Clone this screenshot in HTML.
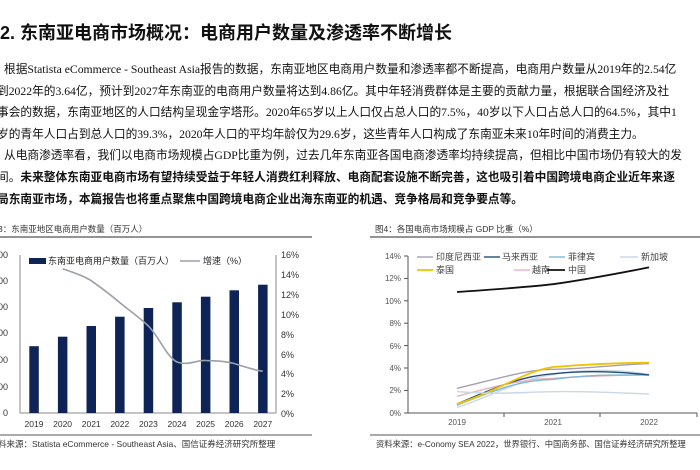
<!DOCTYPE html>
<html><head><meta charset="utf-8"><style>
body{margin:0;width:700px;height:470px;overflow:hidden;background:#fff;font-family:"Liberation Sans","Noto Sans CJK SC",sans-serif;color:#111;position:relative}
.t{position:absolute;left:0;top:19px;font-size:18px;font-weight:bold;white-space:nowrap;font-family:"Liberation Sans","Noto Sans CJK SC",sans-serif}
.p{position:absolute;left:0;white-space:nowrap;font-size:11.7px;line-height:14px;font-family:"Liberation Serif","Noto Sans CJK SC",sans-serif}
b{font-weight:bold}
svg{position:absolute;left:0;top:0}
</style></head><body>
<div class="t">2. 东南亚电商市场概况：电商用户数量及渗透率不断增长</div>
<div class="p" style="top:63px;left:4px">根据Statista eCommerce - Southeast Asia报告的数据，东南亚地区电商用户数量和渗透率都不断提高，电商用户数量从2019年的2.54亿</div>
<div class="p" style="top:84.6px;left:-3px">到2022年的3.64亿，预计到2027年东南亚的电商用户数量将达到4.86亿。其中年轻消费群体是主要的贡献力量，根据联合国经济及社</div>
<div class="p" style="top:106.2px;left:-3px">事会的数据，东南亚地区的人口结构呈现金字塔形。2020年65岁以上人口仅占总人口的7.5%，40岁以下人口占总人口的64.5%，其中1</div>
<div class="p" style="top:127.8px;left:-3px">岁的青年人口占到总人口的39.3%，2020年人口的平均年龄仅为29.6岁，这些青年人口构成了东南亚未来10年时间的消费主力。</div>
<div class="p" style="top:149.4px;left:4px">从电商渗透率看，我们以电商市场规模占GDP比重为例，过去几年东南亚各国电商渗透率均持续提高，但相比中国市场仍有较大的发</div>
<div class="p" style="top:171px;left:-3px">间。<b>未来整体东南亚电商市场有望持续受益于年轻人消费红利释放、电商配套设施不断完善，这也吸引着中国跨境电商企业近年来逐</b></div>
<div class="p" style="top:192.6px;left:-3px"><b>局东南亚市场，本篇报告也将重点聚焦中国跨境电商企业出海东南亚的机遇、竞争格局和竞争要点等。</b></div>
<svg width="700" height="470" viewBox="0 0 700 470" font-family="Liberation Sans, Noto Sans CJK SC, sans-serif">
<g font-size="8.5" fill="#333">
<text x="-2" y="232">3：东南亚地区电商用户数量（百万人）</text>
<text x="375" y="232">图4：各国电商市场规模占 GDP 比重（%）</text>
</g>
<line x1="0" y1="237" x2="312" y2="237" stroke="#555" stroke-width="1.2"/>
<line x1="370" y1="237" x2="700" y2="237" stroke="#555" stroke-width="1.2"/>
<!-- left chart -->
<line x1="20" y1="255" x2="20" y2="413" stroke="#888"/>
<line x1="20" y1="413" x2="276" y2="413" stroke="#888"/>
<line x1="276" y1="255" x2="276" y2="413" stroke="#888"/>
<g fill="#333" font-size="9">
<text x="8" y="258" text-anchor="end">600</text><text x="8" y="284" text-anchor="end">500</text><text x="8" y="310" text-anchor="end">400</text><text x="8" y="336" text-anchor="end">300</text><text x="8" y="363" text-anchor="end">200</text><text x="8" y="390" text-anchor="end">100</text><text x="8" y="416" text-anchor="end">0</text>
<text x="281" y="258">16%</text><text x="281" y="278">14%</text><text x="281" y="298">12%</text><text x="281" y="318">10%</text><text x="281" y="338">8%</text><text x="281" y="358">6%</text><text x="281" y="377">4%</text><text x="281" y="397">2%</text><text x="281" y="417">0%</text>
</g>
<g fill="#0f2456">
<rect x="29.3" y="346.2" width="9.5" height="66.8"/>
<rect x="57.9" y="336.7" width="9.5" height="76.3"/>
<rect x="86.5" y="326" width="9.5" height="87"/>
<rect x="115.1" y="316.7" width="9.5" height="96.3"/>
<rect x="143.7" y="308" width="9.5" height="105"/>
<rect x="172.3" y="302.3" width="9.5" height="110.7"/>
<rect x="200.9" y="296.7" width="9.5" height="116.3"/>
<rect x="229.5" y="290.3" width="9.5" height="122.7"/>
<rect x="258.1" y="284.7" width="9.5" height="128.3"/>
</g>
<path d="M62.6 268.7 C75 273,84 276,91.2 280.7 C103 289,112 296,119.8 302.6 C130 311,140 318,148.4 326 C160 338,166 356,177 362 C188 366,196 360,205.6 360.5 C217 361,225 361,234.2 363.5 C245 367,254 370,262.8 371.2" fill="none" stroke="#9aa0a8" stroke-width="1.6"/>
<rect x="29" y="258" width="17" height="6" fill="#0f2456"/>
<text x="48" y="264" font-size="9" fill="#222">东南亚电商用户数量（百万人）</text>
<line x1="180" y1="261" x2="200" y2="261" stroke="#9aa0a8" stroke-width="1.6"/>
<text x="203" y="264" font-size="9" fill="#222">增速（%）</text>
<g fill="#333" font-size="8.5" text-anchor="middle">
<text x="34" y="427">2019</text><text x="62.6" y="427">2020</text><text x="91.2" y="427">2021</text><text x="119.8" y="427">2022</text><text x="148.4" y="427">2023</text><text x="177" y="427">2024</text><text x="205.6" y="427">2025</text><text x="234.2" y="427">2026</text><text x="262.8" y="427">2027</text>
</g>
<line x1="0" y1="435" x2="312" y2="435" stroke="#555"/>
<text x="-2" y="447" font-size="8.5" fill="#333">料来源：Statista eCommerce - Southeast Asia、国信证券经济研究所整理</text>
<!-- right chart -->
<line x1="408" y1="256" x2="408" y2="413" stroke="#555"/>
<line x1="404" y1="413" x2="697" y2="413" stroke="#555"/>
<g stroke="#555"><line x1="504" y1="413" x2="504" y2="417"/><line x1="600" y1="413" x2="600" y2="417"/><line x1="697" y1="413" x2="697" y2="417"/><line x1="404" y1="256" x2="408" y2="256"/><line x1="404" y1="278.4" x2="408" y2="278.4"/><line x1="404" y1="300.8" x2="408" y2="300.8"/><line x1="404" y1="323.2" x2="408" y2="323.2"/><line x1="404" y1="345.6" x2="408" y2="345.6"/><line x1="404" y1="368" x2="408" y2="368"/><line x1="404" y1="390.4" x2="408" y2="390.4"/></g>
<g fill="#555" font-size="8" text-anchor="end">
<text x="401" y="259">14%</text><text x="401" y="281">12%</text><text x="401" y="304">10%</text><text x="401" y="326">8%</text><text x="401" y="349">6%</text><text x="401" y="371">4%</text><text x="401" y="393">2%</text><text x="401" y="416">0%</text>
</g>
<g fill="#555" font-size="8" text-anchor="middle"><text x="457" y="425">2019</text><text x="553" y="425">2021</text><text x="649" y="425">2022</text></g>
<g fill="none" stroke-width="1.4">
<path d="M457 388.4 C500 378,530 369,553 369.3 C590 369,620 364,649 363.7" stroke="#a79fb0"/>
<path d="M457 407.4 C490 397,520 379,553 374.5 C590 368,620 370,649 374.4" stroke="#c8d8e8"/>
<path d="M457 396.2 C490 388,520 379,553 378.3 C590 376,620 375,649 374.9" stroke="#eab4bc"/>
<path d="M457 405.2 C495 390,520 380,553 379.4 C590 374,620 375,649 374.9" stroke="#7fb8d8"/>
<path d="M457 404 C495 388,520 376,553 373.8 C590 370,620 372,649 374.9" stroke="#1f4e79"/>
<path d="M457 404 C500 390,525 371,553 367 C590 364,620 363,649 362.6" stroke="#f0c400" stroke-width="1.8"/>
<path d="M457 391.5 C495 395,525 392,553 391.7 C590 391,620 393,649 394" stroke="#c8d8e8"/>
<path d="M457 292 C500 289,530 287,553 284.2 C590 279,620 273,649 267.4" stroke="#111" stroke-width="1.8"/>
</g>
<g font-size="9" fill="#444">
<line x1="417" y1="257" x2="433" y2="257" stroke="#a79fb0" stroke-width="1.4"/><text x="436" y="260">印度尼西亚</text>
<line x1="484" y1="257" x2="500" y2="257" stroke="#1f4e79" stroke-width="1.4"/><text x="502" y="260">马来西亚</text>
<line x1="549" y1="257" x2="565" y2="257" stroke="#7fb8d8" stroke-width="1.4"/><text x="568" y="260">菲律宾</text>
<line x1="620" y1="257" x2="638" y2="257" stroke="#c8d8e8" stroke-width="1.4"/><text x="641" y="260">新加坡</text>
<line x1="417" y1="270" x2="433" y2="270" stroke="#f0c400" stroke-width="1.8"/><text x="436" y="273">泰国</text>
<line x1="514" y1="270" x2="530" y2="270" stroke="#eab4bc" stroke-width="1.4"/><text x="532" y="273">越南</text>
<line x1="547" y1="270" x2="565" y2="270" stroke="#111" stroke-width="1.8"/><text x="568" y="273">中国</text>
</g>
<line x1="370" y1="435" x2="700" y2="435" stroke="#555"/>
<text x="376" y="447" font-size="8.3" fill="#333">资料来源：e-Conomy SEA 2022，世界银行、中国商务部、国信证券经济研究所整理</text>
</svg>
</body></html>
